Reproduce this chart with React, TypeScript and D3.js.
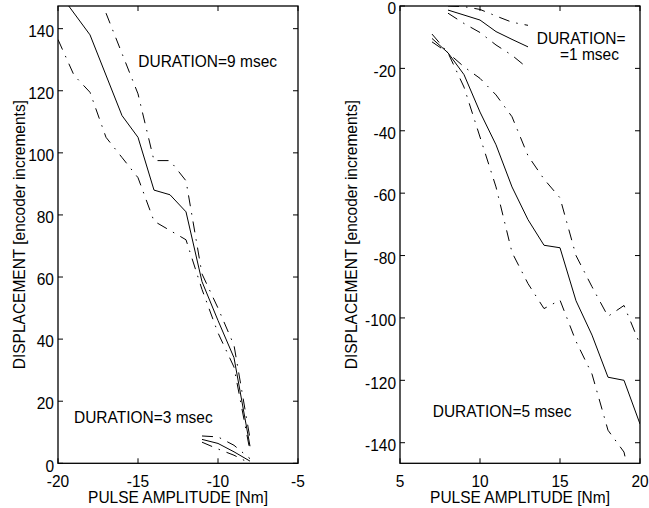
import React from 'react';
import * as d3 from 'd3';

// left panel: negative pulses (9 msec and 3 msec)
const x9 = [-20, -18, -16, -15, -14, -13, -12, -11, -10, -9, -8];
const solid9 = [152, 138, 112, 105, 88, 86.5, 81, 58.5, 46, 34, 5.5];
const xUpper9 = [-17, -15, -14, -13, -12, -11, -10, -9, -8];
const upper9 = [145, 119, 97.5, 97.5, 91, 61, 50, 38, 8];
const xLower9 = [-20, -19, -18, -17, -16, -15, -14, -13, -12, -11, -10, -9, -8];
const lower9 = [136.5, 125, 119.5, 105, 98.5, 92, 78, 75, 72, 56, 42, 31, 4];

const x3 = [-11, -10, -9, -8];
const upper3 = [8.8, 8.5, 5.8, 1.5];
const solid3 = [7.7, 6.4, 3.7, 0.7];
const lower3 = [6.8, 4.6, 2.6, 0];

// right panel: positive pulses (1 msec and 5 msec)
const x1 = [8, 9, 10, 11, 12, 13];
const solid1 = [-1.3, -2.9, -4.5, -8.2, -10.7, -13.1];
const upper1 = [0, -0.2, -1.1, -3.2, -5.2, -6.2];
const lower1 = [-2.3, -5.6, -8.5, -12.5, -15.8, -20];

const x5 = [7, 8, 9, 10, 11, 12, 13, 14, 15, 16, 17, 18, 19, 20];
const solid5 = [-10.4, -15, -22, -34, -44.5, -58, -68.5, -76.7, -77.5, -94.5, -105.5, -119, -120, -134];
const upper5 = [-11.5, -15, -19.5, -23.2, -28.5, -35.5, -48, -55.5, -61.5, -80, -90, -99.5, -96, -108.5];
const lower5 = [-9, -15, -26, -42, -58, -79, -89, -97, -94.3, -107.5, -118, -136, -143, -166];

const leftXTicks = [-20, -15, -10, -5];
const leftYTicks = [0, 20, 40, 60, 80, 100, 120, 140];
const rightXTicks = [5, 10, 15, 20];
const rightYTicks = [-140, -120, -100, -80, -60, -40, -20, 0];

const W = 649;
const H = 508;
const top = 6;
const bottom = 463.3;
const font = '"Liberation Sans", Arial, Helvetica, sans-serif';
const fs = 15.5;
const stretch = 1.1; // glyphs in the scan are a bit taller than wide
const dashDot = '11,7,1.5,7';

type Series = { xs: number[]; ys: number[]; dash?: string };

// text placed at a baseline point, stretched vertically a little
function Label(props: { x: number; y: number; anchor?: string; rotate?: number; children: React.ReactNode }) {
  const { x, y, anchor, rotate, children } = props;
  const t = 'translate(' + x + ',' + y + ')' + (rotate ? ' rotate(' + rotate + ')' : '') + ' scale(1,' + stretch + ')';
  return (
    <text transform={t} textAnchor={anchor || 'start'} fontSize={fs} fontFamily={font}>
      {children}
    </text>
  );
}

function Panel(props: {
  id: string;
  left: number;
  right: number;
  xDomain: [number, number];
  yDomain: [number, number];
  xTicks: number[];
  yTicks: number[];
  series: Series[];
  yLabelX: number;
}) {
  const { id, left, right, xDomain, yDomain, xTicks, yTicks, series, yLabelX } = props;
  const xScale = d3.scaleLinear().domain(xDomain).range([left, right]);
  const yScale = d3.scaleLinear().domain(yDomain).range([bottom, top]);
  const tickLen = 5;

  const paths = series.map((s, i) => {
    const pts = s.xs.map((x, j) => [x, s.ys[j]] as [number, number]);
    const line = d3
      .line<[number, number]>()
      .x(d => xScale(d[0]))
      .y(d => yScale(d[1]));
    return (
      <path
        key={i}
        d={line(pts) || ''}
        fill="none"
        stroke="#000"
        strokeWidth={1}
        strokeDasharray={s.dash}
      />
    );
  });

  const cx = (left + right) / 2;
  const cy = (top + bottom) / 2;

  return (
    <g>
      <clipPath id={id}>
        <rect x={left} y={top} width={right - left} height={bottom - top} />
      </clipPath>
      <g clipPath={'url(#' + id + ')'}>{paths}</g>
      <rect
        x={left}
        y={top}
        width={right - left}
        height={bottom - top}
        fill="none"
        stroke="#000"
        strokeWidth={1.3}
      />
      {xTicks.map(t => (
        <g key={'x' + t}>
          <line x1={xScale(t)} x2={xScale(t)} y1={bottom} y2={bottom - tickLen} stroke="#000" />
          <line x1={xScale(t)} x2={xScale(t)} y1={top} y2={top + tickLen} stroke="#000" />
          <Label x={xScale(t)} y={486.7} anchor="middle">{t}</Label>
        </g>
      ))}
      {yTicks.map(t => (
        <g key={'y' + t}>
          <line x1={left} x2={left + tickLen} y1={yScale(t)} y2={yScale(t)} stroke="#000" />
          <line x1={right} x2={right - tickLen} y1={yScale(t)} y2={yScale(t)} stroke="#000" />
          <Label x={left - 4} y={yScale(t) + 8.2} anchor="end">{t}</Label>
        </g>
      ))}
      <Label x={cx} y={503} anchor="middle">PULSE AMPLITUDE [Nm]</Label>
      <Label x={yLabelX} y={cy} anchor="middle" rotate={-90}>
        DISPLACEMENT [encoder increments]
      </Label>
    </g>
  );
}

export default function App() {
  return (
    <svg
      width={W}
      height={H}
      style={{ position: 'absolute', left: 0, top: 0, background: '#fff' }}
    >
      <rect width={W} height={H} fill="#fff" />
      <Panel
        id="clipL"
        left={58}
        right={298}
        xDomain={[-20, -5]}
        yDomain={[0, 147.3]}
        xTicks={leftXTicks}
        yTicks={leftYTicks}
        yLabelX={24.5}
        series={[
          { xs: x9, ys: solid9 },
          { xs: xUpper9, ys: upper9, dash: dashDot },
          { xs: xLower9, ys: lower9, dash: dashDot },
          { xs: x3, ys: solid3 },
          { xs: x3, ys: upper3, dash: dashDot },
          { xs: x3, ys: lower3, dash: dashDot },
        ]}
      />
      <Panel
        id="clipR"
        left={400}
        right={640}
        xDomain={[5, 20]}
        yDomain={[-146.6, 0]}
        xTicks={rightXTicks}
        yTicks={rightYTicks}
        yLabelX={357}
        series={[
          { xs: x1, ys: solid1 },
          { xs: x1, ys: upper1, dash: dashDot },
          { xs: x1, ys: lower1, dash: dashDot },
          { xs: x5, ys: solid5 },
          { xs: x5, ys: upper5, dash: dashDot },
          { xs: x5, ys: lower5, dash: dashDot },
        ]}
      />
      <Label x={138.3} y={66.7}>DURATION=9 msec</Label>
      <Label x={74} y={423.3}>DURATION=3 msec</Label>
      <Label x={536.7} y={44.3}>DURATION=</Label>
      <Label x={560} y={60}>=1 msec</Label>
      <Label x={432.7} y={416.7}>DURATION=5 msec</Label>
    </svg>
  );
}
